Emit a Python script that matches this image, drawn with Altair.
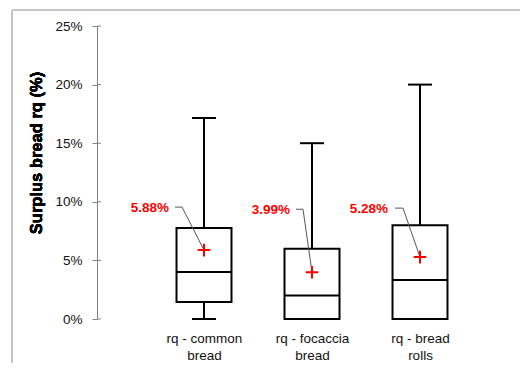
import altair as alt
import pandas as pd

categories = ["rq - common\nbread", "rq - focaccia\nbread", "rq - bread\nrolls"]
mins = [0.0, 0.0, 0.0]
q1s = [1.45, 0.0, 0.0]
medians = [4.0, 2.0, 3.33]
q3s = [7.76, 6.0, 8.0]
maxs = [17.15, 15.0, 20.0]
means = [5.88, 3.99, 5.28]
y_ticks = [0, 5, 10, 15, 20, 25]

df = pd.DataFrame({"cat": categories, "mn": mins, "q1": q1s, "med": medians,
                   "q3": q3s, "mx": maxs, "mean": means})
df["label"] = [f"{m:.2f}%" for m in means]
ticks_df = pd.DataFrame({"v": y_ticks})

FONT = "Liberation Sans"
BW = 55
CAP = 12

xenc = alt.X("cat:N", sort=categories,
             scale=alt.Scale(type="point", range=[107, 323], padding=0),
             axis=alt.Axis(title=None, labelAngle=0, domain=False, ticks=False,
                           labelExpr="split(datum.label, '\\n')", labelFont=FONT,
                           labelFontSize=13.5, labelColor="#111111", labelPadding=12,
                           labelLineHeight=17))
yscale = alt.Scale(domain=[0, 25], nice=False, zero=True)
yenc = alt.Y("q1:Q", scale=yscale,
             axis=alt.Axis(title=None, values=y_ticks, labelExpr="datum.value + '%'",
                           grid=False, domainColor="#808080", tickColor="#808080",
                           tickSize=5, labelPadding=10, labelFont=FONT, labelFontSize=13.5,
                           labelColor="#111111"))

base = alt.Chart(df)

frame_top = alt.Chart(ticks_df).mark_rule(stroke="#c4c4c4", strokeWidth=2).encode(
    x=alt.value(-85), x2=alt.value(430), y=alt.value(-16))
frame_left = alt.Chart(ticks_df).mark_rule(stroke="#c4c4c4", strokeWidth=2).encode(
    x=alt.value(-85), y=alt.value(-16), y2=alt.value(340))

inner_ticks = alt.Chart(ticks_df).mark_rule(color="#808080", strokeWidth=1).encode(
    y=alt.Y("v:Q", scale=yscale), x=alt.value(0), x2=alt.value(4))

ytitle = alt.Chart(ticks_df).mark_text(text="Surplus bread rq (%)", angle=270, font=FONT,
                                       fontSize=16.5, fontWeight="bold", color="#000000",
                                       align="center", baseline="middle").encode(
    x=alt.value(-60), y=alt.value(127))

whisk_hi = base.mark_rule(color="black", strokeWidth=2).encode(
    x=xenc, y=alt.Y("q3:Q", scale=yscale), y2="mx:Q")
whisk_lo = base.mark_rule(color="black", strokeWidth=2).encode(
    x=xenc, y=alt.Y("mn:Q", scale=yscale), y2="q1:Q")
box = base.mark_bar(size=BW, fill="white", stroke="black", strokeWidth=2).encode(
    x=xenc, y=yenc, y2="q3:Q")
med = base.mark_rule(color="black", strokeWidth=2, xOffset=-BW / 2, x2Offset=BW / 2).encode(
    x=xenc, x2="cat:N", y=alt.Y("med:Q", scale=yscale))
cap_hi = base.mark_rule(color="black", strokeWidth=2, xOffset=-CAP, x2Offset=CAP).encode(
    x=xenc, x2="cat:N", y=alt.Y("mx:Q", scale=yscale))
cap_lo = base.mark_rule(color="black", strokeWidth=2, xOffset=-CAP, x2Offset=CAP).encode(
    x=xenc, x2="cat:N", y=alt.Y("mn:Q", scale=yscale))

layers = [frame_top, frame_left, inner_ticks, ytitle, whisk_hi, whisk_lo, box, med,
          cap_hi, cap_lo]

# per-label leader/label offsets (pixels, relative to the mean marker)
offs = [
    dict(h1=-29, h2=-22, dy=-43, tx=-35, ty=-42),
    dict(h1=-16, h2=-9, dy=-63, tx=-22, ty=-62),
    dict(h1=-25, h2=-17, dy=-49, tx=-32, ty=-48),
]
for cat, o in zip(categories, offs):
    sub = alt.Chart(df).transform_filter(alt.datum.cat == cat)
    diag = sub.mark_rule(color="#555555", strokeWidth=1, x2Offset=o["h2"], y2Offset=o["dy"]).encode(
        x=xenc, x2="cat:N", y=alt.Y("mean:Q", scale=yscale), y2="mean:Q")
    horiz = sub.mark_rule(color="#555555", strokeWidth=1, xOffset=o["h1"], x2Offset=o["h2"],
                          yOffset=o["dy"], y2Offset=o["dy"]).encode(
        x=xenc, x2="cat:N", y=alt.Y("mean:Q", scale=yscale), y2="mean:Q")
    lab = sub.mark_text(color="#ff0000", font=FONT, fontSize=13.5, fontWeight="bold",
                        align="right", baseline="middle", dx=o["tx"], dy=o["ty"]).encode(
        x=xenc, y=alt.Y("mean:Q", scale=yscale), text="label:N")
    layers += [diag, horiz, lab]

plus = base.mark_point(shape="M-1,0L1,0M0,-1L0,1", filled=False, stroke="#ff0000",
                       strokeWidth=2, size=160, opacity=1).encode(
    x=xenc, y=alt.Y("mean:Q", scale=yscale))
layers.append(plus)

chart = alt.layer(*layers).properties(
    width=415, height=293,
    padding={"left": 89, "top": 18, "right": 8, "bottom": 44},
    autosize=alt.AutoSizeParams(type="none"),
).configure_view(stroke=None)

chart.save("out.html", embed_options={"renderer": "svg", "actions": False})
